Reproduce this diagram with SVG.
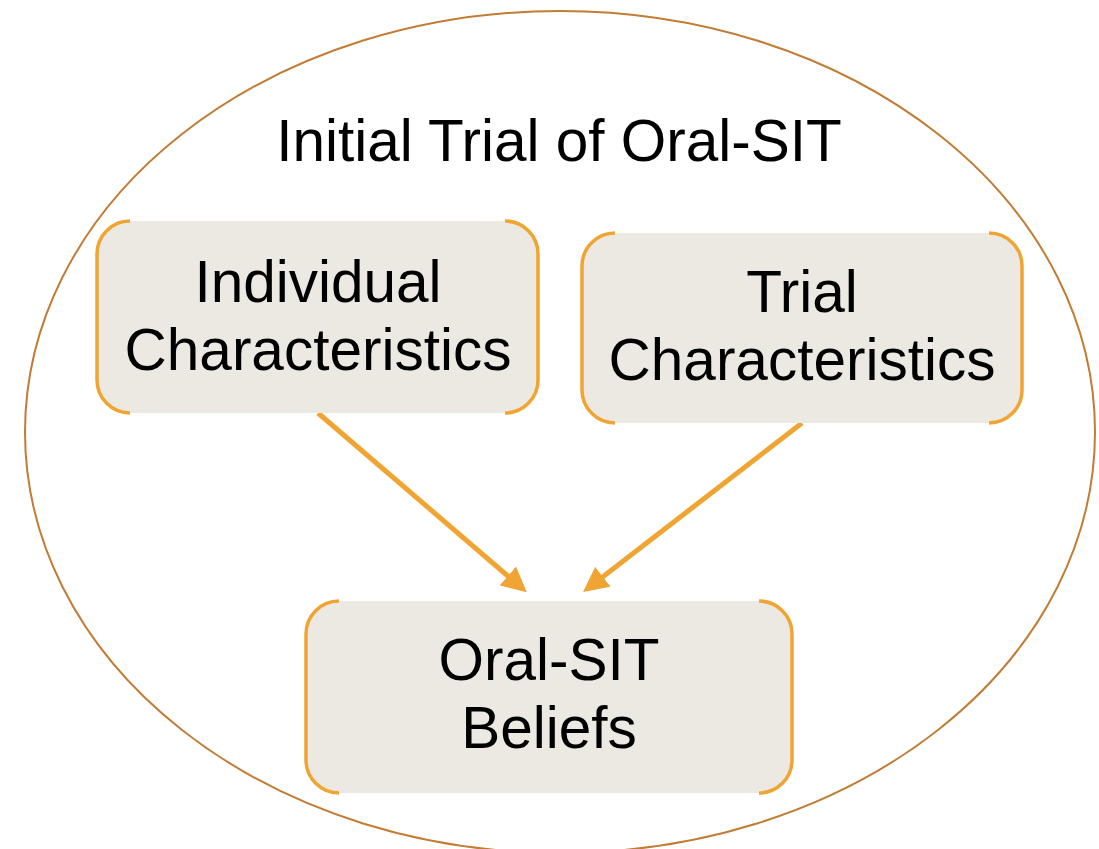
<svg xmlns="http://www.w3.org/2000/svg" width="1099" height="849" viewBox="0 0 1099 849">
<style>
.box{fill:#ECE9E3;stroke:none}
.br{fill:none;stroke:#F0A431;stroke-width:3.5}
.t{font-family:"Liberation Sans",Arial,sans-serif;font-size:58.5px;fill:#000;text-anchor:middle}
.c{stroke:#F0A431;stroke-width:5;fill:none}
</style>
<defs>
<marker id="ah" markerWidth="5" markerHeight="5" refX="4" refY="2.5" orient="auto" markerUnits="strokeWidth">
<path d="M0,0 L5,2.5 L0,5 z" fill="#F0A431"/>
</marker>
</defs>
<rect width="1099" height="849" fill="#fff"/>
<g id="frame">
<ellipse cx="560" cy="432" rx="535" ry="421" fill="none" stroke="#C27C34" stroke-width="2"/>
<text class="t" x="559" y="161">Initial Trial of Oral-SIT</text>
</g>
<g id="connectors">
<path class="c" d="M318,413 L523,589" marker-end="url(#ah)"/>
<path class="c" d="M802,423 L587,589" marker-end="url(#ah)"/>
</g>
<g id="individual">
<rect class="box" x="97" y="221" width="441" height="192" rx="33"/>
<path class="br" d="M130,221 A33,33 0 0 0 97,254 V380 A33,33 0 0 0 130,413"/>
<path class="br" d="M505,221 A33,33 0 0 1 538,254 V380 A33,33 0 0 1 505,413"/>
<text class="t" x="318" y="302">Individual</text>
<text class="t" x="318" y="370">Characteristics</text>
</g>
<g id="trial">
<rect class="box" x="582" y="233" width="440" height="190" rx="33"/>
<path class="br" d="M615,233 A33,33 0 0 0 582,266 V390 A33,33 0 0 0 615,423"/>
<path class="br" d="M989,233 A33,33 0 0 1 1022,266 V390 A33,33 0 0 1 989,423"/>
<text class="t" x="802" y="312">Trial</text>
<text class="t" x="802" y="380">Characteristics</text>
</g>
<g id="beliefs">
<rect class="box" x="306" y="601" width="486" height="192" rx="33"/>
<path class="br" d="M339,601 A33,33 0 0 0 306,634 V760 A33,33 0 0 0 339,793"/>
<path class="br" d="M759,601 A33,33 0 0 1 792,634 V760 A33,33 0 0 1 759,793"/>
<text class="t" x="549" y="680">Oral-SIT</text>
<text class="t" x="549" y="748">Beliefs</text>
</g>
</svg>
